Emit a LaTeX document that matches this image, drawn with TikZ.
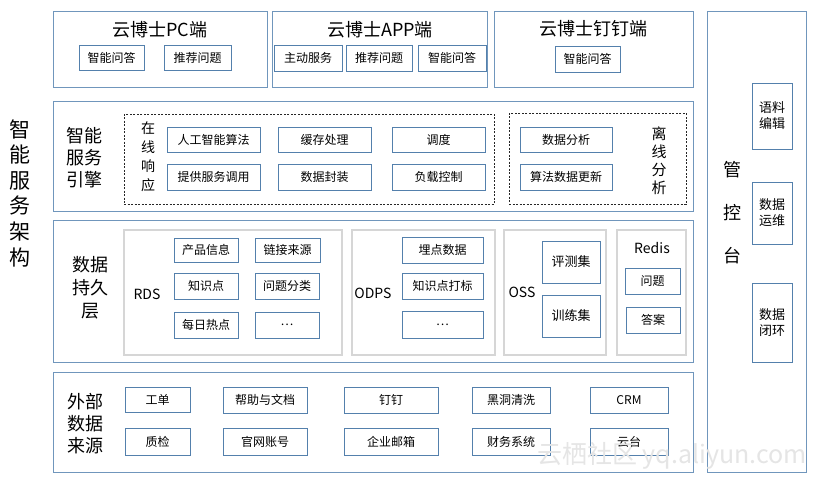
\documentclass[tikz,border=0pt]{standalone}
\usepackage{fontspec}
\setmainfont{Noto Sans CJK SC}
\usetikzlibrary{shadows}

\definecolor{edgeblue}{RGB}{84,128,172}
\definecolor{paneblue}{RGB}{112,150,188}
\definecolor{groupgrey}{RGB}{214,214,214}

\tikzset{
  pane/.style={draw=paneblue, line width=1pt, fill=white,
    drop shadow={shadow xshift=0.8pt, shadow yshift=-1.2pt, opacity=0.35}},
  cell/.style={draw=edgeblue, line width=0.8pt, fill=white, inner sep=0pt,
    font=\fontsize{12}{14}\selectfont,
    drop shadow={shadow xshift=0.8pt, shadow yshift=-1pt, opacity=0.3}},
  tall/.style={cell, align=center, font=\fontsize{13}{16}\selectfont},
  group/.style={draw=groupgrey, line width=2pt, fill=white},
  zone/.style={draw=black!85, line width=0.6pt, dash pattern=on 2pt off 1.5pt},
  title/.style={font=\fontsize{18}{20}\selectfont},
  label/.style={align=center, inner sep=0pt},
}

% box from corner (x1,y1) to (x2,y2), pixel units
\newcommand{\blk}[7]{%
  \node[#1, minimum width={(#5-#3)*1pt}, minimum height={(#6-#4)*1pt}]
    (#2) at ({(#3+#5)/2},{(#4+#6)/2}) {#7};}

\begin{document}
\begin{tikzpicture}[x=1pt,y=-1pt]
\useasboundingbox (0,0) rectangle (815,480);

%----------------------
% outer panes
%----------------------
\blk{pane}{pc}{53}{11}{267}{87}{}
\blk{pane}{app}{272}{11}{487}{87}{}
\blk{pane}{ding}{494}{11}{693}{87}{}
\blk{pane}{console}{707}{11}{806}{472}{}
\blk{pane}{engine}{53}{101}{693}{211}{}
\blk{pane}{store}{53}{220}{693}{362}{}
\blk{pane}{source}{53}{372}{693}{472}{}

% big side label
\node[label, font=\fontsize{21}{25.6}\selectfont] (arch) at (20,193)
  {智\\能\\服\\务\\架\\构};

%----------------------
% clients
%----------------------
\node[title] (pctitle) at (160,30) {云博士PC端};
\node[title] (apptitle) at (380,30) {云博士APP端};
\node[title] (dingtitle) at (593,29) {云博士钉钉端};

\blk{cell}{pcqa}{79}{45}{144}{70}{智能问答}
\blk{cell}{pcrec}{164}{45}{231}{70}{推荐问题}
\blk{cell}{appsvc}{274}{45}{342}{71}{主动服务}
\blk{cell}{apprec}{346}{45}{412}{71}{推荐问题}
\blk{cell}{appqa}{418}{45}{486}{71}{智能问答}
\blk{cell}{dingqa}{555}{46}{620}{72}{智能问答}

%----------------------
% engine
%----------------------
\node[label, font=\fontsize{18}{22}\selectfont] (enginelbl) at (84,158)
  {智能\\服务\\引擎};

\blk{zone}{online}{124}{114}{494}{204}{}
\blk{zone}{offline}{509}{113}{686}{204}{}
\node[label, font=\fontsize{14}{19}\selectfont] (onlinelbl) at (148,157)
  {在\\线\\响\\应};
\node[label, font=\fontsize{15}{18}\selectfont] (offlinelbl) at (659,161)
  {离\\线\\分\\析};

\blk{cell}{algo}{167}{127}{260}{152}{人工智能算法}
\blk{cell}{cache}{278}{127}{371}{152}{缓存处理}
\blk{cell}{sched}{392}{127}{485}{152}{调度}
\blk{cell}{invoke}{167}{164}{260}{190}{提供服务调用}
\blk{cell}{pack}{278}{164}{371}{190}{数据封装}
\blk{cell}{load}{392}{164}{485}{190}{负载控制}
\blk{cell}{anal}{520}{127}{612}{152}{数据分析}
\blk{cell}{update}{520}{164}{612}{190}{算法数据更新}

%----------------------
% storage
%----------------------
\node[label, font=\fontsize{18}{23}\selectfont] (storelbl) at (90,288)
  {数据\\持久\\层};

\blk{group}{rds}{124}{230}{342}{355}{}
\blk{group}{odps}{352}{230}{495}{355}{}
\blk{group}{oss}{504}{230}{606}{355}{}
\blk{group}{redis}{617}{230}{686}{355}{}

\node[font=\fontsize{14}{16}\selectfont] (rdslbl) at (147,294) {RDS};
\node[font=\fontsize{14}{16}\selectfont] (odpslbl) at (373,293) {ODPS};
\node[font=\fontsize{14}{16}\selectfont] (osslbl) at (522,292) {OSS};
\node[font=\fontsize{14}{16}\selectfont] (redislbl) at (652,248) {Redis};

\blk{cell}{prod}{174}{238}{238}{262}{产品信息}
\blk{cell}{link}{255}{238}{320}{262}{链接来源}
\blk{cell}{know}{174}{273}{238}{299}{知识点}
\blk{cell}{qclass}{255}{273}{319}{299}{问题分类}
\blk{cell}{hot}{174}{312}{238}{338}{每日热点}
\blk{cell}{rdsmore}{255}{312}{319}{338}{\ldots}

\blk{cell}{track}{402}{237}{483}{263}{埋点数据}
\blk{cell}{tag}{402}{273}{483}{299}{知识点打标}
\blk{cell}{odpsmore}{402}{311}{483}{338}{\ldots}

\blk{tall}{evalset}{542}{241}{600}{283}{评测集}
\blk{tall}{trainset}{542}{295}{600}{337}{训练集}

\blk{cell}{rq}{625}{268}{680}{294}{问题}
\blk{cell}{ra}{626}{307}{680}{333}{答案}

%----------------------
% external sources
%----------------------
\node[label, font=\fontsize{18}{22}\selectfont] (sourcelbl) at (85,424)
  {外部\\数据\\来源};

\blk{cell}{ticket}{125}{387}{190}{412}{工单}
\blk{cell}{qc}{125}{428}{190}{455}{质检}
\blk{cell}{help}{223}{387}{307}{413}{帮助与文档}
\blk{cell}{account}{223}{428}{307}{455}{官网账号}
\blk{cell}{dingsrc}{344}{387}{438}{413}{钉钉}
\blk{cell}{mail}{344}{428}{438}{455}{企业邮箱}
\blk{cell}{blackhole}{472}{387}{550}{413}{黑洞清洗}
\blk{cell}{finance}{472}{428}{550}{455}{财务系统}
\blk{cell}{crm}{590}{387}{668}{413}{CRM}
\blk{cell}{yuntai}{590}{428}{668}{455}{云台}

%----------------------
% console
%----------------------
\node[label, font=\fontsize{18}{43}\selectfont] (consolelbl) at (732,213)
  {管\\控\\台};
\blk{tall}{corpus}{752}{83}{792}{149}{语料\\编辑}
\blk{tall}{ops}{752}{182}{792}{244}{数据\\运维}
\blk{tall}{loop}{752}{283}{792}{362}{数据\\闭环}

% watermark
\node[text=black!10, font=\fontsize{25}{27}\selectfont] (mark) at (672,456)
  {云栖社区 yq.aliyun.com};

\end{tikzpicture}
\end{document}
